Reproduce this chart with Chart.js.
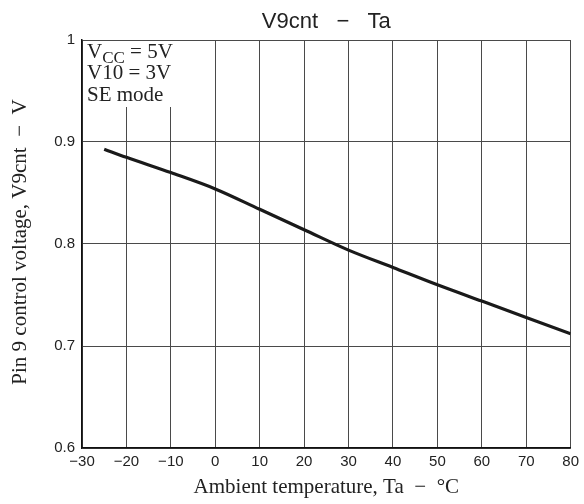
<!DOCTYPE html>
<html>
<head>
<meta charset="utf-8">
<script src="https://cdn.jsdelivr.net/npm/chart.js@4/dist/chart.umd.min.js"></script>
<style>
  html, body { margin: 0; padding: 0; background: #fff; }
  #wrap { width: 584px; height: 504px; }
</style>
</head>
<body>
<div id="wrap"><canvas id="myChart" width="584" height="504"></canvas></div>
<script>
// values
const temps = [-25, -20, -10, 0, 10, 20, 30, 40, 50, 60, 70, 80];
const v9cnt = [0.893, 0.885, 0.870, 0.854, 0.834, 0.814, 0.794, 0.777, 0.760, 0.744, 0.728, 0.712];
const xTicks = [-30, -20, -10, 0, 10, 20, 30, 40, 50, 60, 70, 80];
const yTicks = [0.6, 0.7, 0.8, 0.9, 1];

const chartTitle = 'V9cnt   \u2212   Ta';
const xTitle = 'Ambient temperature, Ta  \u2212  \u00B0C';
const yTitle = 'Pin 9 control voltage, V9cnt  \u2212  V';

const SERIF = '"Liberation Serif", "Times New Roman", serif';
const SANS = '"Liberation Sans", Arial, sans-serif';

// draws the titles and the conditions box in the top-left corner
const labelsPlugin = {
  id: 'labels',
  beforeDatasetsDraw(chart) {
    const { ctx, chartArea: a } = chart;
    ctx.save();
    ctx.fillStyle = '#fff';
    ctx.fillRect(a.left + 1, a.top + 1, 120, 66);
    ctx.fillStyle = '#222';
    ctx.textAlign = 'left';
    ctx.textBaseline = 'alphabetic';
    const x0 = a.left + 5;
    ctx.font = '21px ' + SERIF;
    ctx.fillText('V', x0, a.top + 18);
    const w = ctx.measureText('V').width;
    ctx.font = '17px ' + SERIF;
    ctx.fillText('CC', x0 + w, a.top + 23);
    const w2 = ctx.measureText('CC').width;
    ctx.font = '21px ' + SERIF;
    ctx.fillText(' = 5V', x0 + w + w2, a.top + 18);
    ctx.fillText('V10 = 3V', x0, a.top + 39);
    ctx.fillText('SE mode', x0, a.top + 61);
    ctx.restore();
  },
  afterDraw(chart) {
    const { ctx, chartArea: a } = chart;
    const cx = (a.left + a.right) / 2;
    ctx.save();
    ctx.fillStyle = '#222';
    ctx.textAlign = 'center';
    ctx.textBaseline = 'alphabetic';
    ctx.font = '22px ' + SANS;
    ctx.fillText(chartTitle, cx, 28);
    ctx.font = '21px ' + SERIF;
    ctx.fillText(xTitle, cx, 493);
    ctx.translate(26, 242);
    ctx.rotate(-Math.PI / 2);
    ctx.fillText(yTitle, 0, 0);
    ctx.restore();
  }
};

new Chart('myChart', {
  type: 'line',
  data: {
    datasets: [
      {
        data: temps.map((t, i) => ({ x: t, y: v9cnt[i] })),
        borderColor: '#1a1a1a',
        borderWidth: 3.2,
        pointRadius: 0,
        fill: false,
        cubicInterpolationMode: 'monotone',
      },
    ],
  },
  options: {
    responsive: false,
    animation: false,
    layout: { padding: { top: 40, right: 11, left: 0, bottom: 0 } },
    plugins: {
      legend: { display: false },
      tooltip: { enabled: false },
      title: { display: false },
    },
    scales: {
      x: {
        type: 'linear',
        min: -30,
        max: 80,
        afterBuildTicks: (s) => { s.ticks = xTicks.map((v) => ({ value: v })); },
        afterFit: (s) => { s.height = 56; },
        ticks: {
          padding: 5,
          color: '#222',
          font: { family: SANS, size: 15 },
          callback: (v) => String(v).replace('-', '\u2212'),
        },
        grid: { color: '#4a4a4a', lineWidth: 1, drawTicks: false },
        border: { color: '#111', width: 1.5 },
      },
      y: {
        min: 0.6,
        max: 1,
        afterBuildTicks: (s) => { s.ticks = yTicks.map((v) => ({ value: v })); },
        afterFit: (s) => { s.width = 82; },
        ticks: {
          padding: 7,
          color: '#222',
          font: { family: SANS, size: 15 },
          callback: (v) => (v === 1 ? '1' : v.toFixed(1)),
        },
        grid: { color: '#4a4a4a', lineWidth: 1, drawTicks: false },
        border: { color: '#111', width: 1.5 },
      },
    },
  },
  plugins: [labelsPlugin],
});
</script>
</body>
</html>
